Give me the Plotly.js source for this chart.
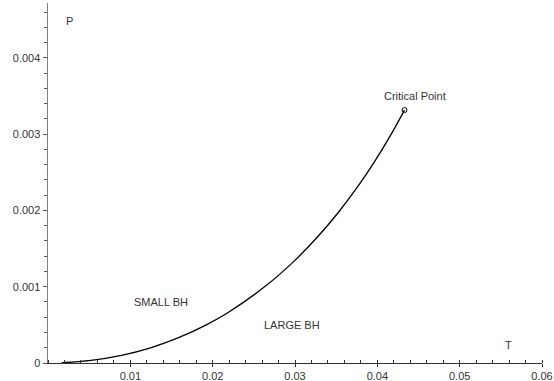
<!DOCTYPE html>
<html>
<head>
<meta charset="utf-8">
<script src="https://cdn.plot.ly/plotly-3.0.1.min.js"></script>
<style>html,body{margin:0;padding:0;background:#fff}#chart{width:554px;height:381px}</style>
</head>
<body>
<div id="chart"></div>
<script>
// Coexistence line
var temperature = [0.00167, 0.00521, 0.00892, 0.01245, 0.01586, 0.01917, 0.02188, 0.02626, 0.02980, 0.03278, 0.03538, 0.03768, 0.03974, 0.04160, 0.04330];
var pressure    = [0.0000033, 0.0000332, 0.0000995, 0.000199, 0.000332, 0.000497, 0.000663, 0.000995, 0.001326, 0.001658, 0.001990, 0.002321, 0.002653, 0.002984, 0.003316];
var criticalT = [0.04330];
var criticalP = [0.003316];

var xTickVals = [0.01, 0.02, 0.03, 0.04, 0.05, 0.06];
var xTickText = ["0.01", "0.02", "0.03", "0.04", "0.05", "0.06"];
var yTickVals = [0, 0.001, 0.002, 0.003, 0.004];
var yTickText = ["0", "0.001", "0.002", "0.003", "0.004"];

var labelFont = {family: "Liberation Sans, Arial, sans-serif", size: 11, color: "#333"};

var traces = [
  {x: temperature, y: pressure, type: "scatter", mode: "lines",
   line: {color: "#000", width: 1.3, shape: "spline", smoothing: 1}, hoverinfo: "skip"},
  {x: criticalT, y: criticalP, type: "scatter", mode: "markers",
   marker: {symbol: "circle-open", size: 5, color: "#000", line: {width: 1}}, hoverinfo: "skip"}
];

var layout = {
  width: 554, height: 381,
  margin: {l: 48, r: 12, t: 3, b: 18},
  paper_bgcolor: "#fff", plot_bgcolor: "#fff",
  showlegend: false,
  font: labelFont,
  xaxis: {
    range: [0, 0.06], showgrid: false, zeroline: false,
    showline: true, linecolor: "#333", linewidth: 1,
    tickmode: "array", tickvals: xTickVals, ticktext: xTickText,
    ticks: "outside", ticklen: 3, tickcolor: "#333",
    tickfont: labelFont, ticklabeloverflow: "allow",
    minor: {tickmode: "linear", tick0: 0, dtick: 0.002, ticks: "inside", ticklen: 3, tickcolor: "#333"}
  },
  yaxis: {
    range: [0, 0.00472], showgrid: false, zeroline: false,
    showline: true, linecolor: "#808080", linewidth: 1.5,
    tickmode: "array", tickvals: yTickVals, ticktext: yTickText,
    ticks: "outside", ticklen: 4, tickcolor: "#555",
    tickfont: labelFont,
    minor: {tickmode: "linear", tick0: 0, dtick: 0.0002, ticks: "outside", ticklen: 3, tickcolor: "#555"}
  },
  annotations: [
    {x: 0.00257, y: 0.00448, xref: "x", yref: "y", text: "P", showarrow: false, font: labelFont},
    {x: 0.0559, y: 0.00024, xref: "x", yref: "y", text: "T", showarrow: false, font: labelFont},
    {x: 0.04453, y: 0.00350, xref: "x", yref: "y", text: "Critical Point", showarrow: false, font: labelFont},
    {x: 0.01373, y: 0.000795, xref: "x", yref: "y", text: "SMALL BH", showarrow: false, font: labelFont},
    {x: 0.02963, y: 0.000493, xref: "x", yref: "y", text: "LARGE BH", showarrow: false, font: labelFont}
  ]
};

Plotly.newPlot("chart", traces, layout, {staticPlot: true, displayModeBar: false});
</script>
</body>
</html>
